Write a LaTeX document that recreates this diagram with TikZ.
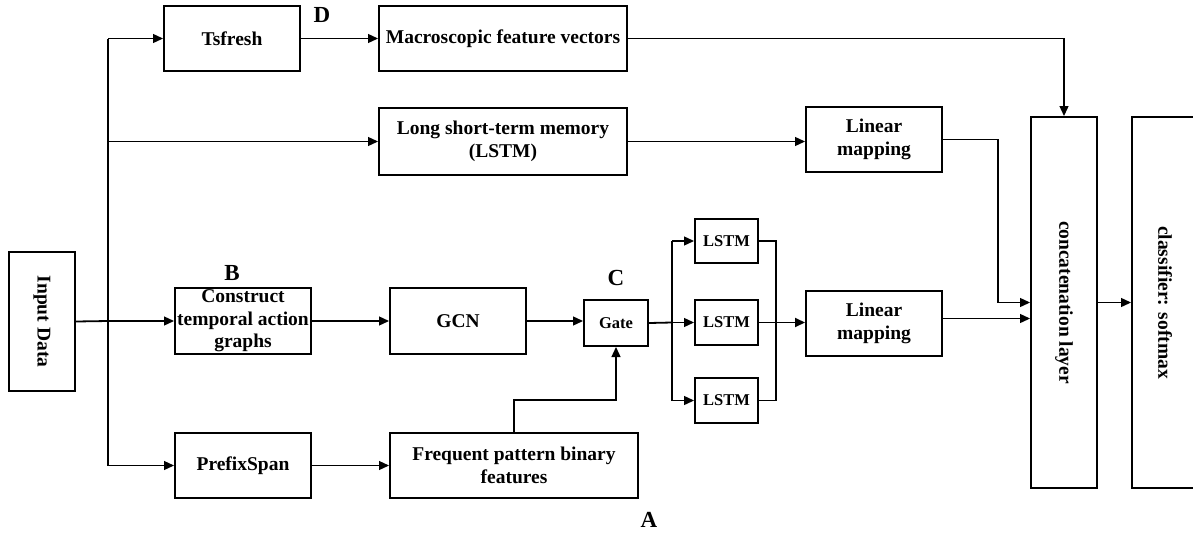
\documentclass[tikz,border=0pt]{standalone}
\usepackage{fontspec}
\setmainfont{Liberation Serif}
\usetikzlibrary{arrows.meta}
\begin{document}
\begin{tikzpicture}[x=1pt,y=-1pt,
  box/.style={draw, line width=2pt, inner sep=0pt, align=center, font=\bfseries\fontsize{19.5}{22.5}\selectfont},
  sbox/.style={box, font=\bfseries\fontsize{16.5}{19}\selectfont},
  txt/.style={inner sep=0pt, font=\bfseries\fontsize{19.5}{22.5}\selectfont},
  conn/.style={line width=1.3pt},
  arr/.style={conn, -{Triangle[length=10pt,width=9pt]}},
  lab/.style={inner sep=0pt, font=\bfseries\fontsize{23}{26}\selectfont}]
\useasboundingbox[fill=white] (0,0) rectangle (1193,533);

% boxes
\node[box, minimum width=136pt, minimum height=65pt] (tsfresh) at (232,38.5) {Tsfresh};
\node[box, minimum width=248pt, minimum height=65pt] (macro) at (503,38.5) {Macroscopic feature vectors};
\node[box, minimum width=248pt, minimum height=67pt] (lstmL) at (503,141.5) {Long short-term memory\\(LSTM)};
\node[box, minimum width=136pt, minimum height=65pt] (lin1) at (874,139.5) {Linear\\mapping};
\node[box, minimum width=66pt, minimum height=371pt] (concat) at (1064,302.5) {};
\node[txt, rotate=-90] (concattxt) at (concat) {concatenation layer};
\node[box, minimum width=66pt, minimum height=371pt] (classifier) at (1165,302.5) {};
\node[txt, rotate=-90] (classtxt) at (classifier) {classifier: softmax};
\node[box, minimum width=66pt, minimum height=139pt] (input) at (42,321.5) {};
\node[txt, rotate=-90] (inputtxt) at (input) {Input Data};
\node[box, minimum width=136pt, minimum height=66pt] (construct) at (243,321) {Construct\\temporal action\\graphs};
\node[box, minimum width=136pt, minimum height=66pt] (gcn) at (458,321) {GCN};
\node[box, minimum width=136pt, minimum height=65pt] (prefix) at (243,465.5) {PrefixSpan};
\node[box, minimum width=248pt, minimum height=65pt] (freq) at (514,465.5) {Frequent pattern binary\\features};
\node[sbox, minimum width=64pt, minimum height=46pt] (gate) at (616,323) {Gate};
\node[sbox, minimum width=63pt, minimum height=44pt] (lstm1) at (726.5,241) {LSTM};
\node[sbox, minimum width=63pt, minimum height=45pt] (lstm2) at (726.5,322.5) {LSTM};
\node[sbox, minimum width=63pt, minimum height=45pt] (lstm3) at (726.5,400.5) {LSTM};
\node[box, minimum width=136pt, minimum height=65pt] (lin2) at (874,323.5) {Linear\\mapping};

% labels
\node[lab] (labD) at (322,15) {D};
\node[lab] (labB) at (232,273) {B};
\node[lab] (labC) at (616,278) {C};
\node[lab] (labA) at (649,520) {A};

% helper coordinates
\coordinate (bx) at (108,321);
\coordinate (m1) at (998,302.5);
\coordinate (gk) at (616,400);
\coordinate (sp) at (672,322.5);
\coordinate (mg) at (776,322.5);

% connectors
\draw[line width=1.8pt] (input.east) -- (bx);
\draw[conn] (bx |- tsfresh.west) -- (bx |- prefix.west);
\draw[arr] (bx) -- (construct.west);
\draw[arr] (bx |- tsfresh.west) -- (tsfresh.west);
\draw[arr] (bx |- lstmL.west) -- (lstmL.west);
\draw[arr] (bx |- prefix.west) -- (prefix.west);
\draw[arr] (tsfresh.east) -- (macro.west);
\draw[arr] (macro.east) -| (concat.north);
\draw[arr] (lstmL.east) -- (lstmL.east -| lin1.west);
\draw[arr] (lin1.east) -| (m1) -- (concat.west);
\draw[arr] (construct.east) -- (gcn.west);
\draw[arr] (prefix.east) -- (freq.west);
\draw[arr] (gcn.east) -- (gcn.east -| gate.west);
\draw[arr] (freq.north) |- (gk) -- (gate.south);
\draw[line width=1.8pt] (gate.east) -- (sp);
\draw[conn] (sp |- lstm1.west) -- (sp |- lstm3.west);
\draw[arr] (sp |- lstm1.west) -- (lstm1.west);
\draw[arr] (sp) -- (lstm2.west);
\draw[arr] (sp |- lstm3.west) -- (lstm3.west);
\draw[conn] (lstm1.east) -- (mg |- lstm1.east) -- (mg |- lstm3.east) -- (lstm3.east);
\draw[arr, line width=1.8pt] (lstm2.east) -- (lstm2.east -| lin2.west);
\draw[arr] ([yshift=5pt]lin2.east) -- ([yshift=5pt]lin2.east -| concat.west);
\draw[arr] (concat.east) -- (classifier.west);
\end{tikzpicture}
\end{document}
